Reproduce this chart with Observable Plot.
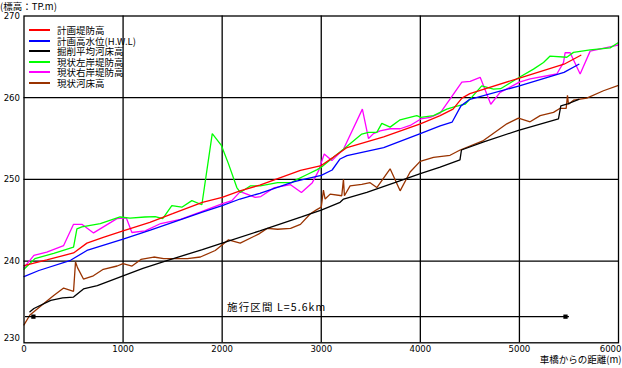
<!DOCTYPE html>
<html>
<head>
<meta charset="utf-8">
<script src="https://cdn.jsdelivr.net/npm/d3@7"></script>
<script src="https://cdn.jsdelivr.net/npm/@observablehq/plot@0.6"></script>
<style>
  html, body { margin: 0; padding: 0; background: #fff; }
  #wrap { position: relative; width: 622px; height: 368px; overflow: hidden; font-family: "Noto Sans CJK JP", sans-serif; }
  #title { position: absolute; left: 0; top: 1px; font-size: 9.5px; line-height: 10px; color: #000; white-space: nowrap; }
  #legend { position: absolute; left: 29px; top: 25px; font-size: 9.5px; color: #000; }
  #legend .row { height: 10.5px; line-height: 10.5px; display: flex; align-items: center; white-space: nowrap; }
  #legend .sw { width: 21px; height: 2px; margin-right: 7px; }
</style>
</head>
<body>
<div id="wrap">
  <div id="chart"></div>
  <div id="title">(標高：TP.m)</div>
  <div id="legend"></div>
</div>
<script>
// ---- series names & colours ----
const seriesNames = ["計画堤防高", "計画高水位(H.W.L)", "掘削平均河床高", "現状左岸堤防高", "現状右岸堤防高", "現状河床高"];
const seriesColors = ["#ff0000", "#0000ff", "#000000", "#00ff00", "#ff00ff", "#993300"];

// ---- 計画堤防高 ----
const planLeveeX = [0, 230, 500, 635, 800, 1000, 1270, 1500, 1800, 2000, 2180, 2380, 2790, 3000, 3120, 3260, 3630, 4000, 4200, 4330, 4420, 4500, 5000, 5450, 5620];
const planLeveeY = [239.45, 240.15, 241.0, 242.2, 242.9, 243.7, 244.75, 245.8, 247.2, 247.8, 248.6, 249.3, 251.1, 251.7, 252.7, 253.9, 255.2, 256.8, 257.8, 258.6, 259.95, 260.5, 262.4, 264.1, 265.2];

// ---- 計画高水位(H.W.L) ----
const hwlX = [0, 150, 470, 635, 1000, 1275, 1800, 2000, 2180, 2380, 2720, 2790, 3000, 3110, 3190, 3260, 3630, 4000, 4200, 4320, 4410, 4500, 5000, 5450, 5600];
const hwlY = [238.1, 238.85, 240.1, 241.3, 242.7, 243.8, 246.0, 246.8, 247.6, 248.3, 249.7, 249.9, 250.5, 251.15, 252.5, 252.9, 253.9, 255.6, 256.55, 257.0, 259.0, 259.8, 261.45, 263.1, 264.1];

// ---- 掘削平均河床高 ----
const excavX = [60, 100, 270, 390, 500, 600, 740, 1000, 1200, 1450, 1800, 2000, 2380, 2800, 3000, 3190, 3225, 3460, 3800, 4000, 4200, 4400, 4415, 4640, 4990, 5394, 5418, 5478, 5600];
const excavY = [233.8, 234.2, 235.2, 235.5, 235.6, 236.6, 237.0, 238.2, 239.1, 240.1, 241.4, 242.2, 243.7, 245.4, 246.25, 247.2, 247.6, 248.4, 249.85, 250.7, 251.5, 252.4, 253.6, 254.6, 256.0, 257.4, 259.0, 259.2, 259.8];

// ---- 現状左岸堤防高 ----
const leftBankX = [0, 110, 300, 500, 534, 584, 770, 970, 1070, 1220, 1324, 1400, 1492, 1593, 1694, 1795, 1900, 1990, 2064, 2148, 2182, 2283, 2384, 2560, 2700, 2757, 2858, 2959, 3000, 3123, 3224, 3409, 3477, 3561, 3611, 3695, 3796, 3964, 4005, 4133, 4267, 4351, 4452, 4522, 4620, 4738, 4810, 5000, 5142, 5243, 5310, 5478, 5546, 5714, 5916, 6000];
const leftBankY = [239.0, 240.3, 240.95, 241.7, 243.95, 244.2, 244.6, 245.4, 245.25, 245.4, 245.45, 245.2, 246.8, 246.6, 247.4, 246.9, 255.6, 254.2, 251.9, 249.0, 248.4, 249.2, 249.2, 249.6, 249.6, 250.0, 250.6, 251.2, 251.5, 252.7, 253.7, 255.55, 255.75, 255.75, 256.85, 256.4, 257.3, 257.8, 257.6, 257.8, 258.6, 258.9, 259.2, 260.1, 261.45, 261.05, 261.1, 262.5, 263.5, 264.3, 265.1, 264.95, 265.55, 265.85, 266.1, 266.75];

// ---- 現状右岸堤防高 ----
const rightBankX = [0, 100, 230, 400, 500, 584, 702, 938, 1032, 1089, 1223, 1380, 1580, 1778, 1997, 2098, 2182, 2249, 2333, 2390, 2520, 2690, 2800, 2910, 2975, 3030, 3107, 3224, 3415, 3477, 3527, 3594, 3695, 3796, 3897, 4005, 4099, 4200, 4301, 4419, 4503, 4604, 4711, 4805, 5000, 5108, 5377, 5445, 5461, 5512, 5613, 5714, 5983, 6000];
const rightBankY = [239.2, 240.7, 241.1, 241.9, 244.5, 244.5, 243.45, 245.2, 245.3, 243.5, 243.7, 244.6, 245.1, 246.0, 247.0, 247.4, 248.5, 248.2, 247.8, 247.9, 248.95, 249.35, 248.4, 249.6, 251.1, 253.1, 252.3, 253.7, 258.6, 255.0, 255.6, 255.95, 256.2, 256.2, 256.6, 257.4, 257.6, 258.1, 259.85, 261.9, 262.0, 262.5, 259.2, 260.65, 261.9, 262.3, 262.9, 264.3, 265.5, 265.5, 262.9, 265.7, 266.4, 266.5];

// ---- 現状河床高 ----
const bedX = [0, 60, 200, 300, 400, 500, 520, 540, 600, 700, 800, 940, 1000, 1090, 1180, 1310, 1410, 1650, 1780, 1930, 2064, 2182, 2367, 2454, 2560, 2690, 2790, 2890, 2955, 3000, 3022, 3039, 3090, 3207, 3224, 3234, 3291, 3409, 3493, 3561, 3695, 3796, 3897, 3998, 4133, 4300, 4402, 4637, 4873, 4990, 5108, 5209, 5344, 5411, 5472, 5485, 5495, 5546, 5680, 5848, 6000];
const bedY = [232.2, 233.4, 234.8, 235.8, 236.7, 236.3, 239.9, 239.2, 237.8, 238.2, 239.0, 239.4, 239.7, 239.4, 240.2, 240.5, 240.3, 240.3, 240.5, 241.3, 242.6, 242.2, 243.3, 244.0, 243.9, 244.0, 244.5, 245.8, 246.3, 246.6, 248.7, 247.6, 248.2, 248.0, 250.0, 248.0, 249.2, 249.4, 249.6, 249.0, 251.3, 248.6, 250.9, 252.2, 252.7, 252.95, 253.6, 254.75, 256.8, 257.5, 257.05, 257.8, 258.2, 258.7, 258.7, 260.3, 259.2, 259.7, 259.95, 260.85, 261.5];

// ---- axes ----
const xTicks = [0, 1000, 2000, 3000, 4000, 5000, 6000];
const yTicks = [230, 240, 250, 260, 270];
const xLabel = "車橋からの距離(m)";

// ---- annotation: construction section ----
const spanX = [10, 5500];
const spanY = 233.2;
const spanHeadX = [95, 5465];
const spanLabel = "施行区間 L=5.6km";
const spanLabelX = 2050;
const spanLabelY = 234.3;

const series = [
  [planLeveeX, planLeveeY],
  [hwlX, hwlY],
  [excavX, excavY],
  [leftBankX, leftBankY],
  [rightBankX, rightBankY],
  [bedX, bedY]
];
const toRows = ([xs, ys]) => xs.map((x, i) => ({x, y: ys[i]}));

// draw order: bed, excavation, right bank, left bank, HWL, plan levee
const drawOrder = [5, 2, 4, 3, 1, 0];
const lineMarks = drawOrder.map(i => Plot.line(toRows(series[i]), {
  x: "x", y: "y", stroke: seriesColors[i], strokeWidth: 1.3, strokeLinejoin: "miter"
}));

const tickFont = '"DejaVu Sans Condensed", "Liberation Sans Narrow", "Noto Sans", sans-serif';

const chart = Plot.plot({
  width: 622,
  height: 368,
  marginLeft: 23.5,
  marginRight: 4,
  marginTop: 15.5,
  marginBottom: 25.7,
  x: {domain: [0, 6000]},
  y: {domain: [230, 270]},
  style: {background: "#fff", color: "#000", fontSize: "9.5px", fontFamily: tickFont},
  marks: [
    Plot.gridX(xTicks.slice(1, -1), {stroke: "#000", strokeOpacity: 1, strokeWidth: 1.3}),
    Plot.gridY(yTicks.slice(1, -1), {stroke: "#000", strokeOpacity: 1, strokeWidth: 1.3}),
    Plot.axisX(xTicks.slice(0, -1), {tickSize: 0, tickPadding: 2.5, label: null, tickFormat: d => String(d), fontFamily: tickFont, fontSize: 9.5}),
    Plot.axisX(xTicks.slice(-1), {tickSize: 0, tickPadding: 2.5, label: null, tickFormat: d => String(d), textAnchor: "end", dx: 3, fontFamily: tickFont, fontSize: 9.5}),
    Plot.axisY(yTicks.slice(1), {tickSize: 0, tickPadding: 4, label: null, tickFormat: d => String(d), fontFamily: tickFont, fontSize: 9.5}),
    Plot.axisY(yTicks.slice(0, 1), {tickSize: 0, tickPadding: 4, label: null, tickFormat: d => String(d), dy: -5, fontFamily: tickFont, fontSize: 9.5}),
    ...lineMarks,
    Plot.link([spanX], {x1: d => d[0], x2: d => d[1], y1: spanY, y2: spanY, stroke: "#000", strokeWidth: 1.3}),
    Plot.dot(spanHeadX, {x: d => d, y: spanY, symbol: "square", r: 2.4, fill: "#000", stroke: "none"}),
    Plot.text([spanLabel], {x: spanLabelX, y: spanLabelY, text: d => d, textAnchor: "start", fontSize: 10.5, fontFamily: '"Noto Sans CJK JP", sans-serif', fill: "#000"}),
    Plot.text([xLabel], {frameAnchor: "bottom-right", text: d => d, textAnchor: "end", dy: 20.5, dx: 3, fontSize: 9.5, fontFamily: '"Noto Sans CJK JP", sans-serif', fill: "#000"}),
    Plot.frame({stroke: "#000", strokeWidth: 1.3})
  ]
});
document.getElementById("chart").appendChild(chart);

// letter spacing for annotation label
d3.select(chart).selectAll("text").filter(function() { return this.textContent === spanLabel; })
  .style("letter-spacing", "1.1px");

// legend
const legend = d3.select("#legend");
seriesNames.forEach((name, i) => {
  const row = legend.append("div").attr("class", "row");
  row.append("div").attr("class", "sw").style("background", seriesColors[i]);
  row.append("span").text(name);
});
</script>
</body>
</html>
